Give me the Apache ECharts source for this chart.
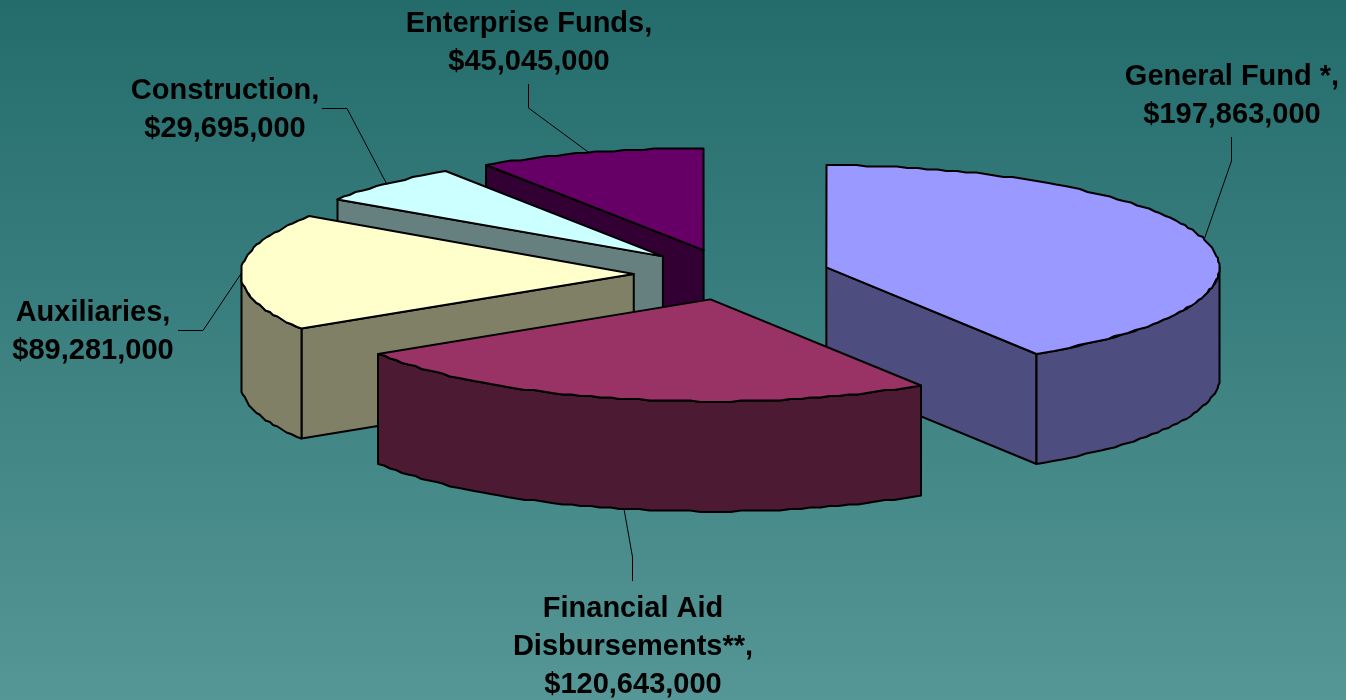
<!DOCTYPE html>
<html>
<head>
<meta charset="utf-8">
<title>Budget by fund</title>
<style>html,body{margin:0;padding:0;background:#3a7d7d}#chart{width:1346px;height:700px}</style>
<script src="https://cdn.jsdelivr.net/npm/echarts@6/dist/echarts.min.js"></script>
</head>
<body>
<div id="chart"></div>
<script>
// Budget sources, clockwise from twelve o'clock
const categories = ['General Fund *', 'Financial Aid\nDisbursements**', 'Auxiliaries', 'Construction', 'Enterprise Funds'];
const amounts = [197863000, 120643000, 89281000, 29695000, 45045000];
const topColors = ['#9999ff', '#993366', '#ffffcc', '#ccffff', '#660066'];
const sideColors = ['#4d4d80', '#4d1a33', '#808066', '#668080', '#330033'];

// Projection of the tilted, exploded pie
const pieCenter = [732, 274.5];
const radiusX = 393;
const radiusY = 102;
const wallHeight = 110;
const explode = 0.25;

// The rim is a fine polyline snapped to a grid, which gives its slightly rough edge
const rimStep = Math.PI / 120;
const rimGrid = 1.5;

// Paint order per slice (back of the pie first)
const paintRank = [3, 4, 2, 1, 0];

// Callouts: text centre, then the elbow of the leader line
const labelCenters = [[1232, 96], [633, 647], [93, 332], [225, 110], [529, 43]];
const leaderStarts = [[1231.5, 137], [632.5, 581], [178, 330.5], [322, 108.5], [528.5, 84]];
const leaderElbows = [[1231.5, 161], [632.5, 557], [203, 330.5], [347, 108.5], [528.5, 108]];

const total = amounts.reduce((a, b) => a + b, 0);
const startFractions = [];
amounts.reduce((sum, v, i) => { startFractions[i] = sum / total; return sum + v; }, 0);

const outline = { stroke: '#000', lineWidth: 2, lineJoin: 'round' };
const snap = (c) => Math.round(c / rimGrid) * rimGrid;

function rimPoint(apex, theta, drop) {
  return [snap(apex[0] + radiusX * Math.sin(theta)), snap(apex[1] - radiusY * Math.cos(theta)) + drop];
}
function arcPoints(apex, from, to, drop) {
  const steps = Math.max(2, Math.ceil(Math.abs(to - from) / rimStep));
  const pts = [];
  for (let k = 0; k <= steps; k++) pts.push(rimPoint(apex, from + (to - from) * k / steps, drop));
  return pts;
}
function poly(points, fill, z2) {
  return { type: 'polygon', shape: { points }, style: Object.assign({ fill }, outline), z2 };
}

function renderSlice(params, api) {
  const i = params.dataIndex;
  const value = api.value(0);
  const a0 = startFractions[i] * 2 * Math.PI;
  const a1 = a0 + value / total * 2 * Math.PI;
  const mid = (a0 + a1) / 2;
  const apex = [
    pieCenter[0] + explode * radiusX * Math.sin(mid),
    pieCenter[1] - explode * radiusY * Math.cos(mid)
  ];
  const z = paintRank[i] * 10;
  const children = [];

  // Flat radial wall, when it faces the viewer
  const wall = (theta) => {
    const p = rimPoint(apex, theta, 0);
    children.push(poly([apex, p, [p[0], p[1] + wallHeight], [apex[0], apex[1] + wallHeight]], sideColors[i], z + 1));
  };
  if (a0 > Math.PI && a0 < 2 * Math.PI) wall(a0);
  if (a1 > 0 && a1 < Math.PI) wall(a1);

  // Curved outer wall on the front half of the ellipse
  const f0 = Math.max(a0, Math.PI / 2);
  const f1 = Math.min(a1, 3 * Math.PI / 2);
  if (f1 > f0) {
    const upper = arcPoints(apex, f0, f1, 0);
    const lower = arcPoints(apex, f1, f0, wallHeight);
    children.push(poly(upper.concat(lower), sideColors[i], z + 2));
  }

  // Top face
  children.push(poly([apex].concat(arcPoints(apex, a0, a1, 0)), topColors[i], z + 3));

  // Leader line from the rim at the slice's mid angle; front slices hang it from the wall
  const midDrop = Math.cos(mid) < -0.5 ? wallHeight : 0;
  children.push({
    type: 'polyline',
    shape: { points: [rimPoint(apex, mid, midDrop), leaderElbows[i], leaderStarts[i]] },
    style: { stroke: '#000', lineWidth: 1, fill: 'none' },
    z2: 100
  });

  // Callout text
  const amount = '$' + value.toLocaleString('en-US');
  children.push({
    type: 'text',
    style: {
      text: categories[i] + ',\n' + amount,
      x: labelCenters[i][0],
      y: labelCenters[i][1],
      align: 'center',
      verticalAlign: 'middle',
      fill: '#000',
      font: 'bold 29px "Liberation Sans", Arial, sans-serif',
      lineHeight: 38
    },
    z2: 101
  });
  return { type: 'group', children };
}

const chart = echarts.init(document.getElementById('chart'), null, { renderer: 'canvas' });
chart.setOption({
  animation: false,
  backgroundColor: {
    type: 'linear', x: 0, y: 0, x2: 0, y2: 1,
    colorStops: [{ offset: 0, color: '#246c6c' }, { offset: 1, color: '#559696' }]
  },
  series: [{
    type: 'custom',
    coordinateSystem: 'none',
    renderItem: renderSlice,
    encode: { value: 0 },
    data: amounts.map((v, i) => ({ name: categories[i], value: [v] }))
  }]
});
</script>
</body>
</html>
